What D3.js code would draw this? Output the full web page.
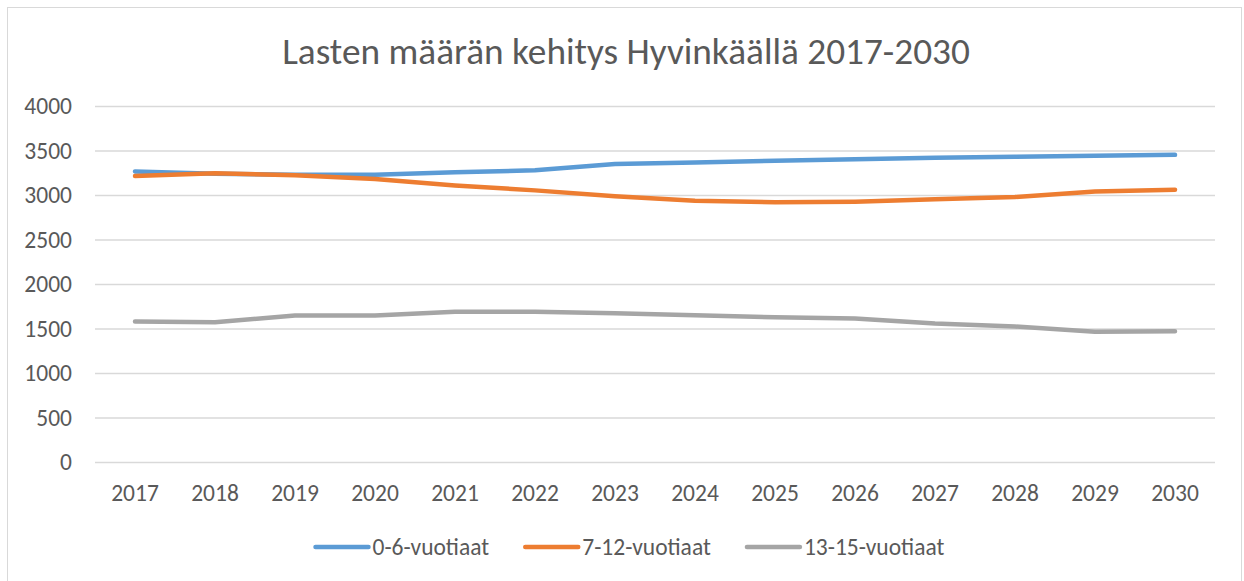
<!DOCTYPE html>
<html>
<head>
<meta charset="utf-8">
<script src="https://cdn.jsdelivr.net/npm/d3@7"></script>
<style>
  body { margin: 0; background: #fff; }
  text { font-family: Carlito, "Open Sans", sans-serif; fill: #595959; }
</style>
</head>
<body>
<script>
const title = "Lasten määrän kehitys Hyvinkäällä 2017-2030";
const years = ["2017", "2018", "2019", "2020", "2021", "2022", "2023", "2024", "2025", "2026", "2027", "2028", "2029", "2030"];
const age0to6 = [3265, 3240, 3228, 3228, 3255, 3277, 3347, 3366, 3384, 3403, 3418, 3429, 3440, 3451];
const age7to12 = [3213, 3245, 3222, 3180, 3108, 3052, 2985, 2935, 2918, 2925, 2951, 2978, 3040, 3060];
const age13to15 = [1578, 1571, 1646, 1646, 1687, 1687, 1672, 1649, 1627, 1612, 1556, 1523, 1463, 1470];
const seriesNames = ["0-6-vuotiaat", "7-12-vuotiaat", "13-15-vuotiaat"];
const colors = ["#5b9bd5", "#ed7d31", "#a5a5a5"];
const yTicks = [0, 500, 1000, 1500, 2000, 2500, 3000, 3500, 4000];

let width = 1244,
  height = 581;

let series = [age0to6, age7to12, age13to15].map((vals, i) => ({
  name: seriesNames[i],
  color: colors[i],
  values: vals.map((v, j) => ({ year: years[j], v: v }))
}));

let svg = d3.select("body").append("svg")
  .attr("width", width)
  .attr("height", height);

// chart area border
svg.append("rect")
  .attr("x", 7.5).attr("y", 7.5)
  .attr("width", 1234).attr("height", 600)
  .attr("fill", "#fff")
  .attr("stroke", "#d9d9d9");

let x = d3.scalePoint()
  .domain(years)
  .range([95, 1215])
  .padding(0.5);

let y = d3.scaleLinear()
  .domain([0, 4000])
  .range([462, 106]);

// gridlines
svg.append("g")
  .selectAll("line")
  .data(yTicks)
  .enter().append("line")
  .attr("x1", 95)
  .attr("x2", 1215)
  .attr("y1", d => y(d) + 0.5)
  .attr("y2", d => y(d) + 0.5)
  .attr("stroke", "#d9d9d9")
  .attr("stroke-width", 1.5);

// y labels
svg.append("g")
  .selectAll("text")
  .data(yTicks)
  .enter().append("text")
  .attr("x", 72)
  .attr("y", d => y(d))
  .attr("dy", "0.35em")
  .attr("text-anchor", "end")
  .attr("font-size", 23.5)
  .text(d => d);

// x labels
svg.append("g")
  .selectAll("text")
  .data(years)
  .enter().append("text")
  .attr("x", d => x(d))
  .attr("y", 493)
  .attr("dy", "0.35em")
  .attr("text-anchor", "middle")
  .attr("font-size", 23.5)
  .text(d => d);

// lines
let line = d3.line()
  .x(d => x(d.year))
  .y(d => y(d.v));

svg.append("g")
  .selectAll("path")
  .data(series)
  .enter().append("path")
  .attr("d", d => line(d.values))
  .attr("fill", "none")
  .attr("stroke", d => d.color)
  .attr("stroke-width", 4.5)
  .attr("stroke-linecap", "round")
  .attr("stroke-linejoin", "round");

// title, fitted to the width seen in the picture
let t = svg.append("text")
  .attr("x", 626)
  .attr("y", 51)
  .attr("dy", "0.35em")
  .attr("text-anchor", "middle")
  .attr("font-size", 30)
  .attr("font-weight", 300)
  .text(title);
let tw = t.node().getComputedTextLength();
t.attr("font-size", 30 * 688 / tw);

// legend
let legend = svg.append("g");
let items = legend.selectAll("g")
  .data(series)
  .enter().append("g");
items.append("line")
  .attr("x1", 2).attr("x2", 55)
  .attr("y1", 0).attr("y2", 0)
  .attr("stroke", d => d.color)
  .attr("stroke-width", 4.5)
  .attr("stroke-linecap", "round");
items.append("text")
  .attr("x", 59)
  .attr("dy", "0.35em")
  .attr("font-size", 23.5)
  .text(d => d.name);

let gap = 36;
let offs = [], pos = 0;
items.each(function () {
  offs.push(pos);
  pos += this.getBBox().width + gap;
});
let total = pos - gap;
let lx0 = 628 - total / 2;
items.attr("transform", (d, i) => `translate(${lx0 + offs[i]}, 547)`);
</script>
</body>
</html>
